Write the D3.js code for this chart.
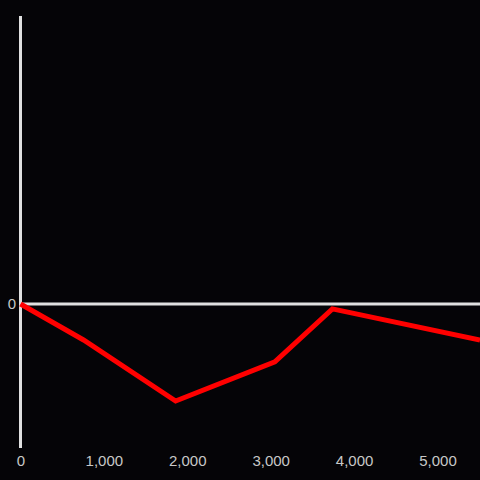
<!DOCTYPE html>
<html>
  <head>
    <meta charset="UTF-8" />
    <script src="https://d3js.org/d3.v7.min.js"></script>
    <style>
      html, body { margin: 0; padding: 0; background: #050407; }
      svg { display: block; }
    </style>
  </head>
  <body>
    <svg width="480" height="480"></svg>
    <script>
      // data
      const xValues = [0, 756, 1860, 3050, 3740, 5510]
      const yValues = [0, -12.5, -33.7, -20.1, -1.7, -12.5]
      const xTicks = [0, 1000, 2000, 3000, 4000, 5000]
      const yTicks = [0]

      const svg = d3.select("svg")
      const width = +svg.attr("width")
      const height = +svg.attr("height")

      svg.append("rect")
        .attr("width", width)
        .attr("height", height)
        .attr("fill", "#050407")

      const x = d3.scaleLinear().domain([0, 5510]).range([20.5, 480])
      const y = d3.scaleLinear().domain([-50, 100]).range([448, 16])

      // y axis line
      svg.append("line")
        .attr("x1", x(0)).attr("x2", x(0))
        .attr("y1", 16).attr("y2", 448)
        .attr("stroke", "#e0e0e0")
        .attr("stroke-width", 3)

      // zero line
      svg.append("line")
        .attr("x1", x(0)).attr("x2", width)
        .attr("y1", y(0)).attr("y2", y(0))
        .attr("stroke", "#e0e0e0")
        .attr("stroke-width", 3)

      // x tick labels
      svg.selectAll(".xt")
        .data(xTicks)
        .enter()
        .append("text")
        .attr("class", "xt")
        .attr("x", d => x(d) + 0.5)
        .attr("y", 466)
        .attr("text-anchor", "middle")
        .attr("fill", "#c8c8c8")
        .attr("font-family", "Liberation Sans, Arial, sans-serif")
        .attr("font-size", 15)
        .text(d3.format(","))

      // y tick labels
      svg.selectAll(".yt")
        .data(yTicks)
        .enter()
        .append("text")
        .attr("class", "yt")
        .attr("x", 16)
        .attr("y", d => y(d))
        .attr("dy", "0.35em")
        .attr("text-anchor", "end")
        .attr("fill", "#c8c8c8")
        .attr("font-family", "Liberation Sans, Arial, sans-serif")
        .attr("font-size", 15)
        .text(d => d)

      // the line
      const line = d3.line()
        .x((d, i) => x(xValues[i]))
        .y(d => y(d))

      svg.append("path")
        .datum(yValues)
        .attr("d", line)
        .attr("fill", "none")
        .attr("stroke", "#ff0000")
        .attr("stroke-width", 5)
        .attr("stroke-linejoin", "miter")
    </script>
  </body>
</html>
